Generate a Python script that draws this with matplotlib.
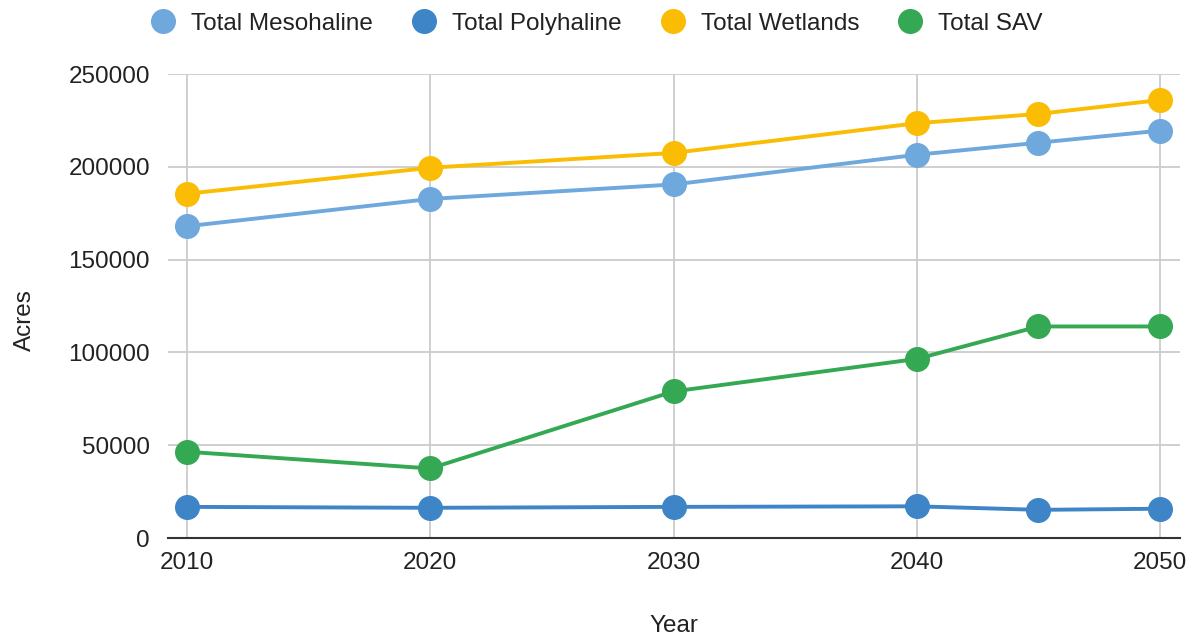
import matplotlib.pyplot as plt
from matplotlib.lines import Line2D

plt.rcParams['font.family'] = ['Liberation Sans', 'DejaVu Sans']

years = [2010, 2020, 2030, 2040, 2045, 2050]
mesohaline = [168000, 182700, 190500, 206500, 213000, 219500]
polyhaline = [16800, 16300, 16800, 17100, 15200, 15800]
wetlands = [185500, 199500, 207500, 223500, 228500, 236000]
sav = [46500, 37500, 79000, 96500, 114000, 114000]

series = [
    ('Total Mesohaline', mesohaline, '#6fa8dc'),
    ('Total Polyhaline', polyhaline, '#3d85c6'),
    ('Total Wetlands', wetlands, '#fbbc04'),
    ('Total SAV', sav, '#34a853'),
]

fs = 17.5

fig = plt.figure(figsize=(11.94, 6.36), dpi=100)
ax = fig.add_axes([0.1407, 0.154, 0.8476, 0.7296])

for name, vals, c in series:
    ax.plot(years, vals, color=c, lw=2.8, marker='o', ms=17, mec=c,
            clip_on=False, zorder=3)

ax.set_xlim(2009.22, 2050.82)
ax.set_ylim(0, 250000)
ax.set_xticks([2010, 2020, 2030, 2040, 2050])
ax.set_yticks(range(0, 250001, 50000))
ax.grid(True, color='#cccccc', lw=1.3)
ax.set_axisbelow(True)
for s in ['top', 'right', 'left']:
    ax.spines[s].set_visible(False)
ax.spines['bottom'].set_color('#333333')
ax.spines['bottom'].set_linewidth(1.5)
ax.tick_params(length=0, labelsize=fs, colors='#222222')
ax.tick_params(axis='x', pad=10)
ax.tick_params(axis='y', pad=13)

fig.text(0.021, 0.497, 'Acres', rotation=90, ha='center', va='center',
         fontsize=fs, color='#222222')
fig.text(0.564, 0.016, 'Year', ha='center', va='center',
         fontsize=fs, color='#222222')

handles = [Line2D([], [], ls='none', marker='o', ms=17, color=c, mec=c)
           for _, _, c in series]
fig.legend(handles, [s[0] for s in series], loc='center',
           bbox_to_anchor=(0.5, 0.963), ncol=4, frameon=False,
           fontsize=fs, handlelength=1.0, handletextpad=0.65,
           columnspacing=1.6, labelcolor='#222222')

fig.savefig('out.png', dpi=100)
